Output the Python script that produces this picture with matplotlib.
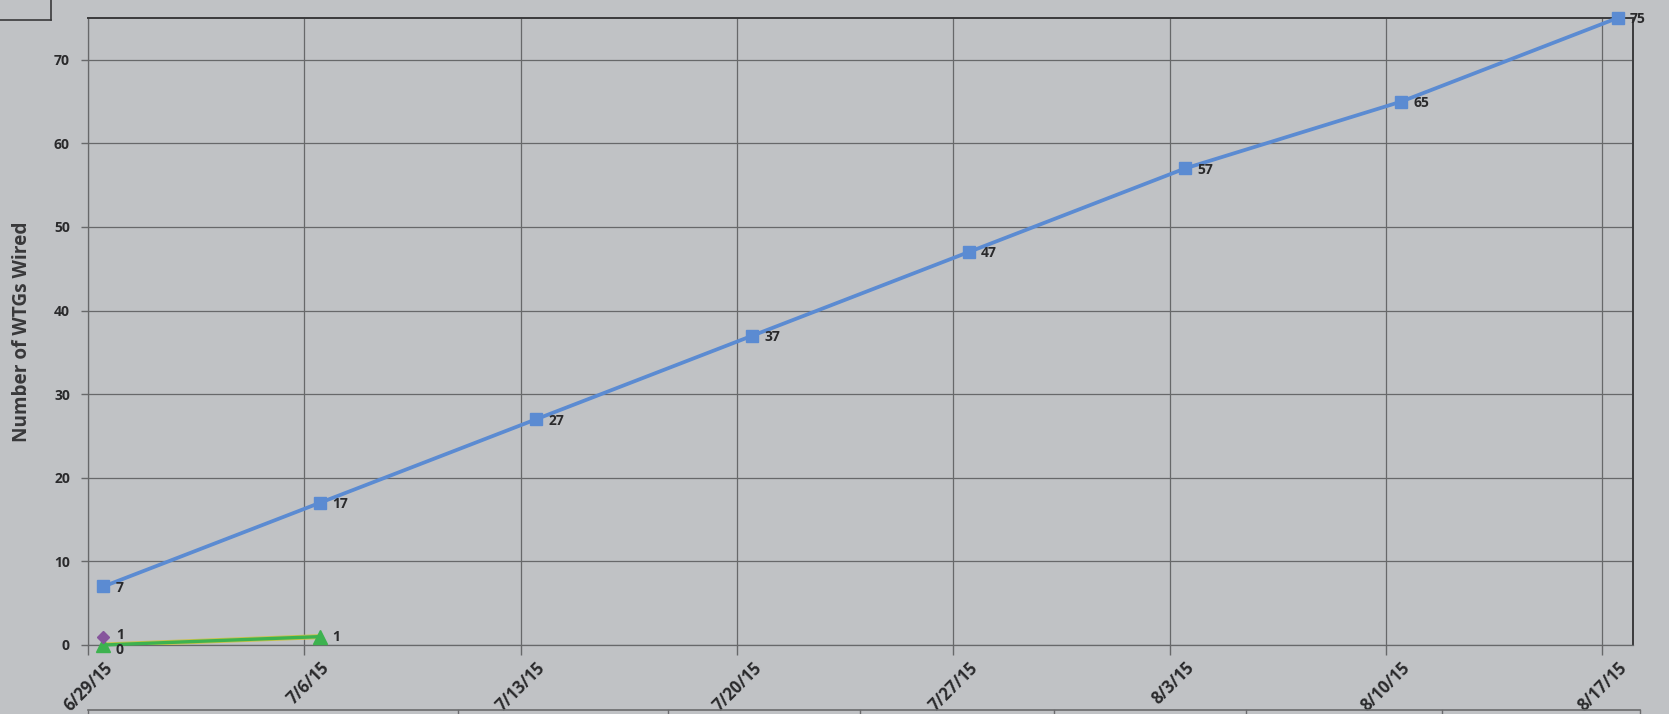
import datetime as dt
import matplotlib
matplotlib.use("Agg")
import matplotlib.pyplot as plt
from matplotlib.lines import Line2D

plt.rcParams['font.family'] = ['Open Sans', 'DejaVu Sans']

# Weekly dates and cumulative WTG counts
dates = ["6/29/15", "7/6/15", "7/13/15", "7/20/15", "7/27/15", "8/3/15", "8/10/15", "8/17/15"]
planned = [7, 17, 27, 37, 47, 57, 65, 75]
actual_dates = ["6/29/15", "7/6/15"]
actual = [0, 1]
other_dates = ["6/29/15"]
other = [1]
y_ticks = [0, 10, 20, 30, 40, 50, 60, 70]

start = dt.datetime.strptime(dates[0], "%m/%d/%y")


def day_pos(s):
    # each day is one slot on the axis; points sit in the middle of their day
    return (dt.datetime.strptime(s, "%m/%d/%y") - start).days + 0.5


bg = "#c0c2c5"
grid_c = "#67686a"
text_c = "#2a2a2c"
blue = "#5b8bd2"
green = "#3db24f"
yellow = "#c9c24a"
purple = "#86559c"

fig = plt.figure(figsize=(16.69, 7.14), dpi=100, facecolor=bg)
ax = fig.add_axes([88 / 1669, 69 / 714, (1633 - 88) / 1669, (645 - 18) / 714])
ax.set_facecolor(bg)

x_planned = [day_pos(d) for d in dates]
x_actual = [day_pos(d) for d in actual_dates]
x_other = [day_pos(d) for d in other_dates]

ax.plot(x_actual, actual, color=yellow, lw=3.6, zorder=3, solid_capstyle="butt")
ax.plot(x_planned, planned, color=blue, lw=2.7, marker="s", ms=8.5,
        markeredgecolor=blue, zorder=4, clip_on=False)
ax.plot(x_actual, actual, color=green, lw=2.4, marker="^", ms=9.5,
        markeredgecolor=green, zorder=5, clip_on=False)
ax.plot(x_other, other, color=purple, lw=0, marker="D", ms=6,
        markeredgecolor=purple, zorder=6, clip_on=False)

lbl = dict(fontsize=10, fontweight="bold", color=text_c, va="center", ha="left",
           textcoords="offset points", clip_on=False, zorder=7)
for x, v in zip(x_planned, planned):
    ax.annotate(f"{v}", (x, v), xytext=(9, -1), **lbl)
for x, v in zip(x_other, other):
    ax.annotate(f"{v}", (x, v), xytext=(9, 1.5), **lbl)
for x, v in zip(x_actual, actual):
    ax.annotate(f"{v}", (x, v), xytext=(9, -3.5 if v == 0 else 0), **lbl)

n_days = int(round(x_planned[-1] + 0.5))
ax.set_xlim(0, n_days)
ax.set_ylim(0, 75)

# week boundaries carry the gridlines; labels sit under each week's point
ax.set_xticks(range(0, n_days, 7))
ax.set_xticklabels([])
ax.set_xticks(x_planned, minor=True)
ax.set_xticklabels(dates, minor=True, rotation=45, ha="right",
                   rotation_mode="anchor", fontsize=12, fontweight="bold", color=text_c)
ax.tick_params(axis="x", which="minor", length=0, pad=10)
ax.tick_params(axis="x", which="major", length=7, width=1, color=grid_c)

ax.set_yticks(y_ticks)
ax.set_yticklabels([str(v) for v in y_ticks], fontsize=10, fontweight="bold", color=text_c)
ax.tick_params(axis="y", length=5, width=1, color=grid_c, pad=8)

ax.grid(True, which="major", color=grid_c, lw=0.9)
ax.set_axisbelow(True)
for side in ["left", "bottom"]:
    ax.spines[side].set_color(grid_c)
    ax.spines[side].set_linewidth(0.9)
for side in ["top", "right"]:
    ax.spines[side].set_color("#3a3a3c")
    ax.spines[side].set_linewidth(1.4)

ax.set_ylabel("Number of WTGs Wired", fontsize=13.7, fontweight="bold", color="#38383a", labelpad=16)

# fragment of a box in the top-left corner
fig.add_artist(Line2D([0, 51 / 1669], [1 - 20 / 714, 1 - 20 / 714], color="#3a3a3c", lw=1.2))
fig.add_artist(Line2D([51 / 1669, 51 / 1669], [1 - 20 / 714, 1.0], color="#3a3a3c", lw=1.2))

# top edge of the data table below the chart
ty = 1 - 710 / 714
fig.add_artist(Line2D([88 / 1669, 1640 / 1669], [ty, ty], color="#6a6b6d", lw=1.2))
for xp in [88, 458, 668, 860, 1054, 1246, 1442, 1640]:
    fig.add_artist(Line2D([xp / 1669, xp / 1669], [0, ty], color="#6a6b6d", lw=1.0))

fig.savefig("out.png", dpi=100, facecolor=bg)
